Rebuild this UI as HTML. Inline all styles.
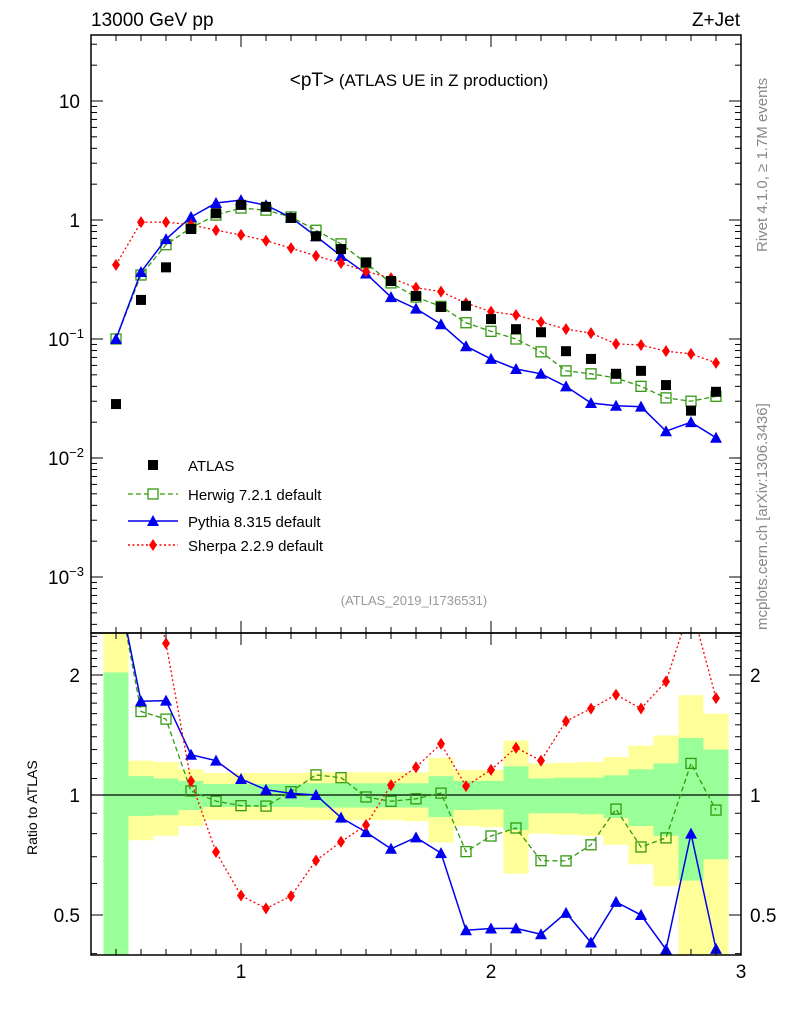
<!DOCTYPE html>
<html><head><meta charset="utf-8"><style>
html,body{margin:0;padding:0;background:#fff}
svg{display:block;font-family:"Liberation Sans",sans-serif}
</style></head><body>
<svg id="c" width="786" height="1024" viewBox="0 0 786 1024">
<defs>
<clipPath id="cm"><rect x="91" y="35" width="650" height="598"/></clipPath>
<clipPath id="cr"><rect x="91" y="633" width="650" height="322"/></clipPath>
</defs>
<g id="bands" clip-path="url(#cr)"></g>
<g id="main" clip-path="url(#cm)"></g>
<g id="ratio" clip-path="url(#cr)"></g>
<g id="axes"></g>
<text x="91" y="26" font-size="19">13000 GeV pp</text>
<text x="740" y="26" font-size="19" text-anchor="end">Z+Jet</text>
<text x="419" y="86" font-size="17" text-anchor="middle"><tspan font-size="19">&lt;pT&gt;</tspan> (ATLAS UE in Z production)</text>
<text x="414" y="605" font-size="13" fill="#999" text-anchor="middle">(ATLAS_2019_I1736531)</text>
<text transform="translate(767,252) rotate(-90)" font-size="15" fill="#888">Rivet 4.1.0, ≥ 1.7M events</text>
<text transform="translate(767,630) rotate(-90)" font-size="15" fill="#888">mcplots.cern.ch [arXiv:1306.3436]</text>
<text transform="translate(37,855) rotate(-90)" font-size="14">Ratio to ATLAS</text>
<g id="legend">
<rect x="148" y="460" width="10" height="10" fill="#000"/>
<text x="188" y="471" font-size="15">ATLAS</text>
<line x1="128" y1="494" x2="178" y2="494" stroke="#339911" stroke-width="1.3" stroke-dasharray="5,3"/>
<rect x="148" y="489" width="10" height="10" fill="#fff" stroke="#339911" stroke-width="1.3"/>
<text x="188" y="500" font-size="15">Herwig 7.2.1 default</text>
<line x1="128" y1="521" x2="178" y2="521" stroke="#0000ee" stroke-width="1.5"/>
<path d="M153,515 L159,526 L147,526 Z" fill="#0000ee"/>
<text x="188" y="527" font-size="15">Pythia 8.315 default</text>
<line x1="128" y1="545" x2="178" y2="545" stroke="#ff0000" stroke-width="1.5" stroke-dasharray="2,2.5"/>
<path d="M153,539 L157,545 L153,551 L149,545 Z" fill="#ff0000"/>
<text x="188" y="551" font-size="15">Sherpa 2.2.9 default</text>
</g>
<script>
const xCenters=[0.5,0.6,0.7,0.8,0.9,1.0,1.1,1.2,1.3,1.4,1.5,1.6,1.7,1.8,1.9,2.0,2.1,2.2,2.3,2.4,2.5,2.6,2.7,2.8,2.9];
const atlasVals=[0.0284,0.213,0.40,0.84,1.14,1.34,1.29,1.04,0.73,0.57,0.44,0.307,0.23,0.186,0.19,0.147,0.121,0.114,0.079,0.068,0.051,0.054,0.041,0.025,0.036];
const herwigVals=[0.1,0.345,0.62,0.86,1.1,1.26,1.21,1.06,0.82,0.63,0.435,0.296,0.225,0.188,0.137,0.116,0.100,0.078,0.054,0.051,0.047,0.040,0.032,0.030,0.033];
const pythiaVals=[0.1,0.366,0.69,1.06,1.39,1.47,1.33,1.05,0.73,0.50,0.355,0.225,0.18,0.133,0.087,0.068,0.056,0.051,0.040,0.029,0.0275,0.027,0.0168,0.020,0.0148];
const sherpaVals=[0.42,0.96,0.96,0.91,0.82,0.75,0.67,0.58,0.50,0.435,0.37,0.325,0.27,0.25,0.2,0.17,0.159,0.139,0.121,0.112,0.091,0.089,0.079,0.075,0.063];
const yellowUp=[3,1.22,1.21,1.16,1.135,1.135,1.135,1.135,1.14,1.14,1.14,1.14,1.14,1.24,1.155,1.155,1.37,1.2,1.205,1.21,1.245,1.33,1.41,1.78,1.6];
const greenUp=[2.03,1.115,1.10,1.085,1.065,1.065,1.065,1.065,1.07,1.07,1.07,1.07,1.07,1.115,1.085,1.085,1.18,1.1,1.105,1.105,1.12,1.16,1.2,1.39,1.3];
const greenDn=[0.3,0.886,0.89,0.917,0.933,0.933,0.933,0.933,0.93,0.93,0.93,0.93,0.93,0.88,0.917,0.92,0.817,0.9,0.9,0.895,0.876,0.836,0.79,0.61,0.69];
const yellowDn=[0.3,0.77,0.79,0.836,0.866,0.866,0.866,0.866,0.865,0.865,0.865,0.865,0.86,0.76,0.836,0.83,0.635,0.8,0.795,0.79,0.75,0.67,0.59,0.3,0.3];
const xTickLabels=["1","2","3"];
const mainTickExps=[1,0,-1,-2,-3];
const ratioTickLabels=["0.5","1","2"];
</script>
<script>
const NS="http://www.w3.org/2000/svg";
const X=v=>91+(v-0.4)*250;
const Ym=v=>220-119*Math.log10(v);
const Yr=v=>795-120*Math.log2(v);
function mk(tag,attrs,parent){const e=document.createElementNS(NS,tag);for(const k in attrs)e.setAttribute(k,attrs[k]);parent.appendChild(e);return e;}
const bands=document.getElementById('bands'),main=document.getElementById('main'),ratio=document.getElementById('ratio'),axes=document.getElementById('axes');
xCenters.forEach((x,i)=>{
 let r=mk('rect',{x:X(x-0.05),width:X(x+0.05)-X(x-0.05),y:Yr(yellowUp[i]),height:Yr(yellowDn[i])-Yr(yellowUp[i]),fill:'#ffff99'},bands);
 
 
 let g=mk('rect',{x:X(x-0.05),width:X(x+0.05)-X(x-0.05),y:Yr(greenUp[i]),height:Yr(greenDn[i])-Yr(greenUp[i]),fill:'#99ff99'},bands);
 
 
});
const one=mk('line',{x1:91,x2:741,y1:Yr(1),y2:Yr(1),stroke:'#000','stroke-width':1.2},ratio);


function series(vals,Y,g,color,dash,marker,name){
 const pts=xCenters.map((x,i)=>[X(x),Y(vals[i])]);
 const p=mk('polyline',{points:pts.map(p=>p.join(',')).join(' '),fill:'none',stroke:color,'stroke-width':marker==='tri'?1.5:1.3},g);
 if(dash)p.setAttribute('stroke-dasharray',dash);
 
 
 pts.forEach(([x,y])=>{
  let m;
  if(marker==='osq')m=mk('rect',{x:x-5,y:y-5,width:10,height:10,fill:'#fff','fill-opacity':0,stroke:color,'stroke-width':1.3},g);
  else if(marker==='tri')m=mk('path',{d:`M${x},${y-6}L${x+6},${y+5}L${x-6},${y+5}Z`,fill:color},g);
  else m=mk('path',{d:`M${x},${y-6}L${x+4},${y}L${x},${y+6}L${x-4},${y}Z`,fill:color},g);
  
  
 });
}
series(herwigVals,Ym,main,'#339911','5,3','osq','herwig');
series(pythiaVals,Ym,main,'#0000ee',null,'tri','pythia');
series(sherpaVals,Ym,main,'#ff0000','2,2.5','dia','sherpa');
xCenters.forEach((x,i)=>{
 const m=mk('rect',{x:X(x)-5,y:Ym(atlasVals[i])-5,width:10,height:10,fill:'#000'},main);
 
 
});
const rat=a=>a.map((v,i)=>v/atlasVals[i]);
series(rat(herwigVals),Yr,ratio,'#339911','5,3','osq','herwig-ratio');
series(rat(pythiaVals),Yr,ratio,'#0000ee',null,'tri','pythia-ratio');
series(rat(sherpaVals),Yr,ratio,'#ff0000','2,2.5','dia','sherpa-ratio');
[[35,598],[633,322]].forEach(([y,h],k)=>{
 const f=mk('rect',{x:91,y:y,width:650,height:h,fill:'none',stroke:'#000','stroke-width':1.5},axes);
 
 
});
for(let t=5;t<=30;t++){
 const v=t/10,len=(t%10===0)?12:6,x=X(v);
 [[35,1],[633,-1],[633,1],[955,-1]].forEach(([y,d])=>{
  const l=mk('line',{x1:x,x2:x,y1:y,y2:y+d*len,stroke:'#000','stroke-width':1},axes);
  
  
 });
}
xTickLabels.forEach(s=>{
 const t=mk('text',{x:X(+s),y:978,'font-size':19,'text-anchor':'middle'},axes);t.textContent=s;
 
 
});
for(let e=-4;e<=1;e++)for(let m=1;m<=9;m++){
 const v=m*Math.pow(10,e),y=Ym(v);if(y<35||y>633)continue;
 const len=m===1?12:6;
 [[91,1],[741,-1]].forEach(([x,d])=>{
  const l=mk('line',{x1:x,x2:x+d*len,y1:y,y2:y,stroke:'#000','stroke-width':1},axes);
  
  
 });
}
mainTickExps.forEach(e=>{
 const y=Ym(Math.pow(10,e))+7;
 const t=mk('text',{x:80,y:y,'font-size':19,'text-anchor':'end'},axes);
 if(e===1)t.textContent='10';else if(e===0)t.textContent='1';
 else{t.textContent='10';const s=mk('tspan',{dy:-8,'font-size':13},t);s.textContent='−'+(-e);
  t.removeAttribute('text-anchor');t.setAttribute('x',48);}
 
 
});
for(let v=0.4;v<=2.55;v+=0.1){
 const vv=Math.round(v*10)/10,y=Yr(vv);if(y<633||y>955)continue;
 const len=(vv===0.5||vv===1||vv===2)?12:6;
 [[91,1],[741,-1]].forEach(([x,d])=>{
  const l=mk('line',{x1:x,x2:x+d*len,y1:y,y2:y,stroke:'#000','stroke-width':1},axes);
  
  
 });
}
ratioTickLabels.forEach(s=>{
 const y=Yr(+s)+7;
 const a=mk('text',{x:80,y:y,'font-size':19,'text-anchor':'end'},axes);a.textContent=s;
 
 
 const b=mk('text',{x:750,y:y,'font-size':19},axes);b.textContent=s;
 
 
});
</script>
</svg>
</body></html>
